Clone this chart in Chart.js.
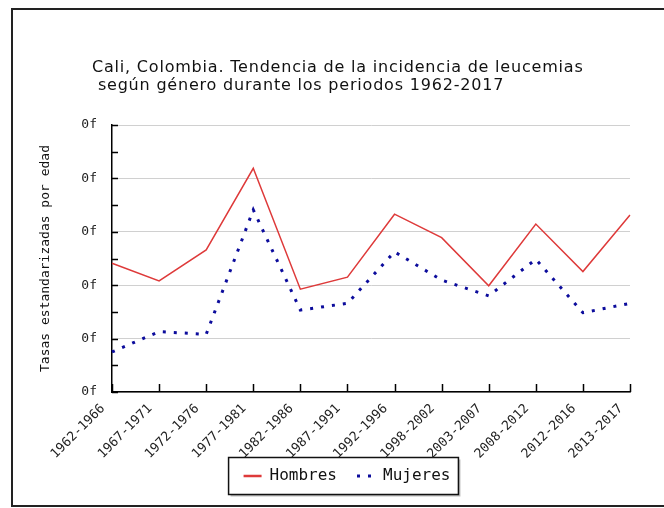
<!DOCTYPE html>
<html><head><meta charset="utf-8">
<script src="https://cdn.jsdelivr.net/npm/chart.js@4.4.1/dist/chart.umd.min.js"></script>
<style>html,body{margin:0;padding:0;background:#fff;} canvas{display:block;}</style>
</head><body>
<canvas id="c" width="664" height="508"></canvas>
<script>
const categories = ['1962-1966','1967-1971','1972-1976','1977-1981','1982-1986','1987-1991','1992-1996','1998-2002','2003-2007','2008-2012','2012-2016','2013-2017'];
const hombres = [4.82, 4.16, 5.32, 8.38, 3.85, 4.30, 6.66, 5.78, 3.98, 6.29, 4.51, 6.63];
const mujeres = [1.50, 2.26, 2.16, 6.82, 3.07, 3.32, 5.25, 4.19, 3.60, 4.97, 2.97, 3.32];
const seriesNames = ['Hombres', 'Mujeres'];
const titleLines = ['Cali, Colombia. Tendencia de la incidencia de leucemias', ' según género durante los periodos 1962-2017'];
const yTickLabel = '0f';
const yTitle = 'Tasas estandarizadas por edad';

const MONO = "'DejaVu Sans Mono', monospace";

const decor = {
  id: 'decor',
  beforeDraw(chart) {
    const ctx = chart.ctx;
    ctx.save();
    ctx.fillStyle = '#fff';
    ctx.fillRect(0, 0, chart.width, chart.height);
    ctx.strokeStyle = '#222';
    ctx.lineWidth = 2;
    ctx.strokeRect(12, 9, 700, 497);
    // legend frame
    const hb = chart.legend.legendHitBoxes;
    if (hb && hb.length) {
      const l = hb[0].left - 15;
      const r = hb[hb.length - 1].left + hb[hb.length - 1].width + 8;
      const cy = hb[0].top + hb[0].height / 2;
      const t = cy - 18.5, h = 37;
      ctx.fillStyle = '#bbb';
      ctx.fillRect(l + 2, t + 2, r - l, h);
      ctx.fillStyle = '#fff';
      ctx.fillRect(l, t, r - l, h);
      ctx.strokeStyle = '#111';
      ctx.lineWidth = 1.5;
      ctx.strokeRect(l, t, r - l, h);
    }
    ctx.restore();
  },
  afterDraw(chart) {
    const ctx = chart.ctx;
    const {x, y} = chart.scales;
    ctx.save();
    // title
    ctx.fillStyle = '#111';
    ctx.font = "16px 'DejaVu Sans', sans-serif";
    try { ctx.letterSpacing = '0.8px'; } catch (e) {}
    ctx.textAlign = 'left';
    ctx.textBaseline = 'alphabetic';
    titleLines.forEach((t, i) => ctx.fillText(t, 92, 72 + i * 18));
    try { ctx.letterSpacing = '0px'; } catch (e) {}
    // inward tick marks
    ctx.strokeStyle = '#000';
    ctx.lineWidth = 1.5;
    ctx.beginPath();
    y.ticks.forEach(tk => {
      const py = Math.round(y.getPixelForValue(tk.value)) + 0.5;
      ctx.moveTo(x.left, py);
      ctx.lineTo(x.left + 6, py);
    });
    categories.forEach((c, i) => {
      const px = Math.round(x.getPixelForValue(i)) + 0.5;
      ctx.moveTo(px, y.bottom);
      ctx.lineTo(px, y.bottom - 8);
    });
    ctx.stroke();
    ctx.restore();
  }
};

new Chart(document.getElementById('c'), {
  type: 'line',
  data: {
    labels: categories,
    datasets: [
      { label: seriesNames[0], data: hombres, borderColor: '#de3a3a', backgroundColor: '#de3a3a', borderWidth: 1.5, pointRadius: 0, tension: 0, fill: false },
      { label: seriesNames[1], data: mujeres, borderColor: '#0c0c9c', backgroundColor: '#0c0c9c', borderWidth: 3, borderDash: [3, 8], borderCapStyle: 'butt', pointRadius: 0, tension: 0, fill: false }
    ]
  },
  options: {
    responsive: false,
    animation: false,
    layout: { padding: { left: 64, right: 34, top: 125, bottom: 14 } },
    plugins: {
      title: { display: false },
      tooltip: { enabled: false },
      legend: {
        position: 'bottom',
        title: { display: true, text: '', font: { size: 1 }, padding: { top: -11.2, bottom: 0 } },
        labels: {
          usePointStyle: true, pointStyle: 'line', pointStyleWidth: 18,
          font: { family: MONO, size: 16 }, color: '#111', padding: 20,
          generateLabels(chart) {
            const items = Chart.defaults.plugins.legend.labels.generateLabels(chart);
            items.forEach(it => {
              const ds = chart.data.datasets[it.datasetIndex];
              it.lineDash = ds.borderDash || [];
              it.lineCap = 'butt';
              it.strokeStyle = ds.borderColor;
              it.lineWidth = Math.max(ds.borderWidth, 2.5);
              it.pointStyle = 'line';
            });
            return items;
          }
        }
      }
    },
    scales: {
      x: {
        offset: false,
        grid: { display: false, drawTicks: false },
        border: { display: true, color: '#000', width: 1.5 },
        ticks: { autoSkip: false, minRotation: 45, maxRotation: 45, padding: 9, labelOffset: -9, color: '#222', font: { family: MONO, size: 13 } },
        afterFit(s) { s.height = 66; }
      },
      y: {
        min: 0, max: 10,
        grid: { drawTicks: false, lineWidth: 1, color: c => (c.tick && c.tick.value % 2 === 0) ? '#d0d0d0' : 'rgba(0,0,0,0)' },
        border: { display: true, color: '#000', width: 1.5 },
        ticks: { stepSize: 1, padding: 15, color: '#222', font: { family: MONO, size: 13 }, callback: v => (v % 2 === 0 ? yTickLabel : '') },
        title: { display: true, text: yTitle, color: '#111', font: { family: MONO, size: 13 }, padding: { top: -26, bottom: 0 } },
        afterFit(s) { s.width = 48; }
      }
    }
  },
  plugins: [decor]
});
</script>
</body></html>
